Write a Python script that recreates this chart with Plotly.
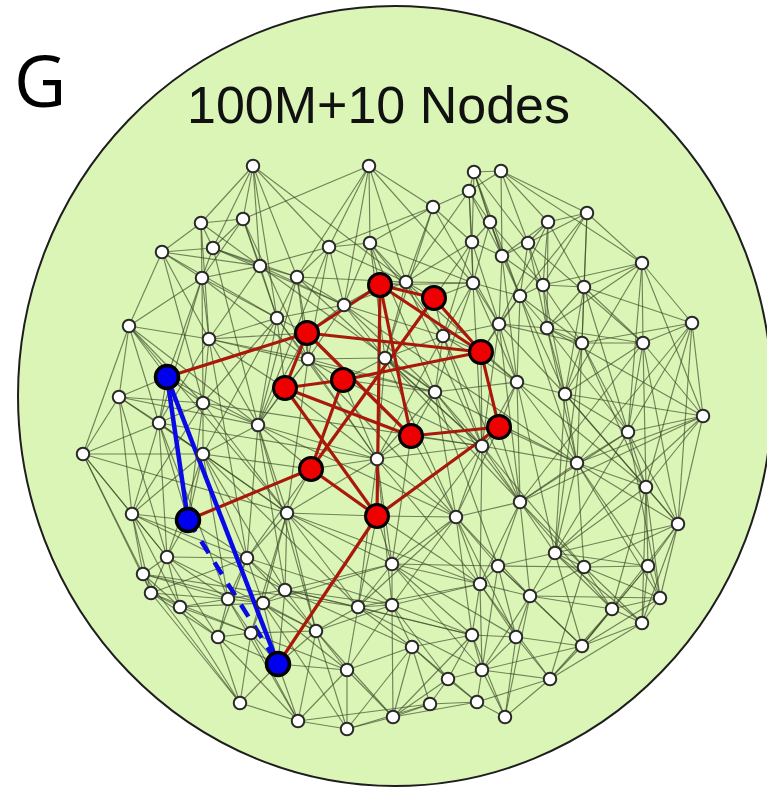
import plotly.graph_objects as go

# ---- node layout (pixel-style coordinates, y grows downward) ----
white_x = [253, 369, 474, 501, 469, 433, 587, 548, 490, 243, 201, 162, 213, 329, 370, 472, 528, 502, 642, 260,
           202, 297, 406, 473, 543, 584, 520, 692, 129, 277, 344, 499, 547, 443, 582, 643, 209, 308, 385, 119,
           203, 159, 258, 83, 203, 435, 517, 565, 703, 628, 482, 377, 577, 646, 520, 132, 287, 456, 678, 555,
           167, 247, 143, 151, 180, 228, 263, 285, 218, 251, 316, 347, 358, 392, 392, 498, 584, 648, 480, 530,
           660, 612, 642, 472, 516, 582, 412, 482, 448, 550, 430, 477, 393, 505, 240, 298, 347]
white_y = [166, 166, 172, 171, 191, 207, 213, 222, 222, 219, 223, 252, 248, 247, 243, 242, 243, 256, 263, 266,
           278, 277, 282, 283, 285, 287, 296, 323, 326, 318, 305, 324, 328, 336, 343, 343, 339, 359, 358, 397,
           403, 423, 425, 454, 454, 392, 382, 394, 416, 432, 446, 459, 463, 487, 502, 514, 513, 517, 524, 553,
           557, 558, 574, 593, 607, 599, 603, 590, 637, 633, 631, 670, 607, 605, 564, 566, 567, 566, 584, 596,
           598, 609, 623, 635, 637, 646, 647, 670, 679, 679, 704, 702, 717, 717, 703, 721, 729]

red_x = [380, 434, 307, 481, 285, 343, 411, 499, 311, 377]
red_y = [285, 298, 333, 352, 388, 380, 436, 427, 469, 516]

blue_x = [167, 188, 278]
blue_y = [377, 520, 664]

# combined index: white 0-96, red 97-106, blue 107-109
all_x = white_x + red_x + blue_x
all_y = white_y + red_y + blue_y

gray_edges = [
    (0, 9), (0, 12), (0, 19), (0, 13), (0, 10), (0, 21), (1, 5), (1, 13), (1, 14), (1, 30), (1, 21), (1, 9),
    (2, 3), (2, 4), (2, 8), (2, 16), (2, 15), (3, 4), (3, 6), (3, 7), (3, 16), (3, 18), (4, 5), (4, 8), (4, 15),
    (4, 17), (4, 23), (5, 14), (5, 15), (5, 22), (5, 13), (5, 38), (6, 7), (6, 16), (6, 18), (6, 24), (6, 25),
    (7, 16), (7, 17), (7, 24), (7, 32), (8, 15), (8, 17), (8, 26), (8, 23), (9, 10), (9, 12), (9, 20), (9, 29),
    (9, 19), (10, 11), (10, 12), (10, 20), (11, 12), (11, 20), (11, 28), (11, 36), (11, 19), (12, 20), (12, 19),
    (12, 21), (12, 42), (13, 14), (13, 21), (13, 30), (13, 22), (13, 19), (14, 22), (14, 30), (14, 38), (14, 23),
    (15, 17), (15, 23), (15, 33), (15, 22), (16, 17), (16, 24), (16, 26), (17, 24), (17, 26), (17, 31), (18, 24),
    (18, 25), (18, 27), (18, 35), (18, 32), (18, 48), (19, 20), (19, 21), (19, 29), (19, 36), (19, 30), (20, 36),
    (20, 28), (20, 29), (20, 40), (21, 29), (21, 30), (21, 37), (21, 22), (22, 23), (22, 33), (22, 30), (22, 38),
    (22, 46), (23, 26), (23, 31), (23, 33), (23, 45), (24, 25), (24, 26), (24, 32), (24, 34), (25, 32), (25, 34),
    (25, 35), (25, 27), (25, 47), (26, 31), (26, 32), (26, 47), (26, 46), (27, 35), (27, 48), (27, 34), (27, 49),
    (27, 53), (28, 36), (28, 39), (28, 43), (28, 41), (28, 40), (29, 36), (29, 37), (29, 42), (29, 30), (29, 44),
    (30, 37), (30, 38), (30, 45), (30, 33), (31, 32), (31, 34), (31, 46), (31, 33), (31, 50), (32, 34), (32, 35),
    (32, 47), (32, 48), (33, 38), (33, 45), (33, 46), (33, 51), (34, 35), (34, 47), (34, 49), (34, 52), (35, 48),
    (35, 49), (35, 53), (35, 47), (36, 40), (36, 41), (36, 37), (36, 42), (37, 38), (37, 42), (37, 51), (37, 45),
    (38, 45), (38, 51), (38, 50), (39, 43), (39, 41), (39, 40), (39, 55), (39, 42), (40, 41), (40, 42), (40, 44),
    (40, 55), (40, 56), (41, 43), (41, 44), (41, 55), (41, 60), (41, 56), (42, 44), (42, 56), (42, 51), (42, 61),
    (42, 67), (43, 44), (43, 55), (43, 60), (43, 62), (44, 55), (44, 56), (44, 61), (44, 60), (45, 46), (45, 50),
    (45, 51), (45, 57), (45, 54), (46, 47), (46, 50), (46, 52), (46, 54), (47, 49), (47, 52), (47, 53), (47, 48),
    (48, 49), (48, 53), (48, 58), (48, 52), (48, 54), (49, 52), (49, 53), (49, 58), (49, 54), (49, 59), (50, 51),
    (50, 54), (50, 57), (50, 52), (50, 74), (51, 57), (51, 56), (51, 74), (51, 72), (52, 53), (52, 54), (52, 59),
    (52, 76), (52, 58), (53, 58), (53, 59), (53, 77), (53, 80), (54, 57), (54, 59), (54, 75), (54, 78), (54, 76),
    (55, 60), (55, 62), (55, 61), (55, 63), (56, 61), (56, 67), (56, 66), (56, 72), (56, 70), (56, 74), (57, 74),
    (57, 75), (57, 78), (57, 72), (57, 73), (58, 59), (58, 77), (58, 80), (58, 82), (58, 76), (59, 76), (59, 77),
    (59, 75), (59, 81), (59, 79), (60, 61), (60, 62), (60, 63), (60, 65), (60, 64), (61, 65), (61, 66), (61, 67),
    (61, 63), (61, 68), (62, 63), (62, 64), (62, 66), (62, 65), (63, 64), (63, 65), (63, 68), (63, 94), (64, 65),
    (64, 68), (64, 94), (64, 66), (64, 69), (65, 66), (65, 68), (65, 69), (65, 67), (66, 67), (66, 69), (66, 70),
    (66, 71), (67, 70), (67, 72), (67, 73), (67, 74), (68, 69), (68, 94), (68, 95), (69, 70), (69, 94), (69, 95),
    (69, 71), (70, 71), (70, 72), (70, 95), (70, 96), (70, 73), (71, 72), (71, 95), (71, 96), (71, 92), (71, 86),
    (72, 73), (72, 74), (72, 86), (72, 78), (73, 74), (73, 86), (73, 78), (73, 83), (73, 92), (74, 75), (74, 78),
    (74, 83), (75, 76), (75, 78), (75, 79), (75, 84), (76, 77), (76, 79), (76, 81), (76, 80), (77, 80), (77, 81),
    (77, 82), (78, 79), (78, 83), (78, 84), (78, 87), (79, 81), (79, 84), (79, 85), (79, 87), (80, 81), (80, 82),
    (80, 85), (81, 82), (81, 85), (81, 89), (82, 85), (82, 89), (83, 84), (83, 86), (83, 87), (83, 88), (84, 85),
    (84, 87), (84, 89), (84, 93), (85, 89), (85, 87), (86, 88), (86, 90), (86, 92), (86, 96), (87, 88), (87, 91),
    (87, 93), (87, 89), (88, 90), (88, 91), (88, 92), (89, 93), (89, 91), (90, 91), (90, 92), (90, 96), (91, 93),
    (91, 92), (92, 96), (94, 95), (95, 96),
    # longer links across the layout
    (0, 22), (1, 23), (9, 37), (12, 30), (2, 26), (6, 34), (13, 42), (14, 33), (21, 42), (5, 31), (11, 40),
    (20, 37), (28, 56), (39, 60), (43, 63), (41, 65), (36, 61), (42, 70), (44, 67), (37, 56), (38, 57), (45, 75),
    (46, 59), (47, 58), (50, 78), (51, 73), (56, 73), (57, 83), (54, 79), (52, 77), (53, 81), (59, 85), (74, 87),
    (72, 83), (60, 68), (62, 94), (65, 95), (66, 96), (67, 86), (70, 92), (75, 87), (76, 89), (77, 85), (49, 80),
    (35, 58), (27, 58), (18, 49), (7, 25), (16, 35), (3, 17), (4, 22), (15, 31), (8, 24), (10, 19), (0, 29),
    (1, 22), (29, 40), (40, 56), (55, 64), (61, 70), (63, 69), (31, 47), (32, 49), (33, 50), (23, 46), (34, 53),
    (26, 34),
    (42, 57), (41, 51), (44, 72), (40, 50), (36, 45), (29, 51), (37, 57), (43, 56), (55, 67), (60, 70), (62, 72),
    (21, 50), (19, 45), (30, 52), (38, 54), (45, 52), (46, 53), (33, 54), (50, 76), (51, 78), (57, 79), (54, 81),
    (52, 80), (47, 59), (48, 59), (27, 52), (35, 54), (32, 52), (34, 59), (25, 49), (24, 47), (17, 46), (23, 50),
    (31, 54), (56, 78), (61, 73), (66, 74), (67, 83), (72, 87), (73, 88), (74, 84), (75, 85), (78, 89), (79, 80),
    (83, 93), (86, 91), (57, 84), (59, 82), (76, 82), (53, 82), (58, 85), (39, 44), (28, 42), (11, 29), (10, 36),
    (13, 37), (14, 45), (22, 50), (26, 52), (18, 47), (6, 26), (7, 31), (2, 17), (16, 32), (20, 41), (44, 65),
    (56, 69), (71, 73), (88, 86), (90, 95), (92, 83), (93, 79), (85, 80), (89, 82),
    # links touching the highlighted nodes
    (97, 22), (97, 14), (97, 30), (97, 23), (98, 22), (98, 23), (98, 33), (98, 15), (99, 29), (99, 30), (99, 37),
    (99, 21), (99, 36), (100, 31), (100, 33), (100, 26), (100, 46), (101, 37), (101, 42), (101, 36), (101, 29),
    (102, 37), (102, 38), (102, 45), (102, 51), (103, 45), (103, 51), (103, 50), (103, 57), (104, 46), (104, 50),
    (104, 52), (104, 54), (105, 42), (105, 56), (105, 44), (105, 51), (106, 51), (106, 57), (106, 74), (106, 72),
    (106, 56), (107, 39), (107, 40), (107, 28), (107, 41), (107, 20), (107, 42), (108, 55), (108, 41), (108, 60),
    (108, 61), (108, 44), (108, 40), (109, 69), (109, 70), (109, 95), (109, 71), (109, 66), (109, 68), (109, 67),
    (109, 94), (101, 51), (102, 50), (103, 74), (104, 57), (105, 61), (106, 78), (99, 42), (100, 50),
]

red_edges = [
    (107, 99), (108, 105), (109, 106), (99, 97), (97, 98), (97, 100), (98, 100), (99, 100), (97, 106), (97, 103),
    (101, 102), (102, 100), (101, 103), (103, 104), (100, 104), (104, 106), (105, 106), (105, 98), (105, 102),
    (101, 106), (101, 99), (99, 103),
]

blue_edges = [(107, 108), (107, 109)]
blue_dashed = [(108, 109)]


def segments(edge_list):
    xs, ys = [], []
    seen = set()
    for a, b in edge_list:
        key = (min(a, b), max(a, b))
        if a == b or key in seen:
            continue
        seen.add(key)
        xs += [all_x[a], all_x[b], None]
        ys += [all_y[a], all_y[b], None]
    return xs, ys


fig = go.Figure()

gx, gy = segments(gray_edges)
fig.add_trace(go.Scatter(x=gx, y=gy, mode="lines",
                         line=dict(color="rgba(58,72,38,0.66)", width=1.15), hoverinfo="skip"))

rx, ry = segments(red_edges)
fig.add_trace(go.Scatter(x=rx, y=ry, mode="lines",
                         line=dict(color="#a8190c", width=3.2), hoverinfo="skip"))

bx, by = segments(blue_edges)
fig.add_trace(go.Scatter(x=bx, y=by, mode="lines",
                         line=dict(color="#0a0ae8", width=4.5), hoverinfo="skip"))

dx, dy = segments(blue_dashed)
fig.add_trace(go.Scatter(x=dx, y=dy, mode="lines",
                         line=dict(color="#0a0ae8", width=4.5, dash="14px,11px"), hoverinfo="skip"))

fig.add_trace(go.Scatter(x=white_x, y=white_y, mode="markers",
                         marker=dict(size=12.5, color="white", line=dict(color="#2a2a2a", width=2)),
                         hoverinfo="skip"))
fig.add_trace(go.Scatter(x=red_x, y=red_y, mode="markers",
                         marker=dict(size=23, color="#ee0000", line=dict(color="black", width=3)),
                         hoverinfo="skip"))
fig.add_trace(go.Scatter(x=blue_x, y=blue_y, mode="markers",
                         marker=dict(size=23, color="#0000ee", line=dict(color="black", width=3.5)),
                         hoverinfo="skip"))

# green disc behind the network
fig.add_shape(type="circle", xref="x", yref="y", x0=18, x1=772, y0=6, y1=786,
              fillcolor="#daf5b6", line=dict(color="#1e1e1e", width=2), layer="below")

fig.add_annotation(x=40, y=79, text="G", showarrow=False, xref="x", yref="y",
                   font=dict(family="Open Sans", size=72, color="black"))
fig.add_annotation(x=378, y=105, text="100M+10 Nodes", showarrow=False, xref="x", yref="y",
                   font=dict(family="Liberation Sans, Arial", size=52, color="#111111"))

fig.update_layout(
    width=767, height=788, margin=dict(l=0, r=0, t=0, b=0),
    paper_bgcolor="white", plot_bgcolor="white", showlegend=False,
    xaxis=dict(range=[0, 767], visible=False, fixedrange=True),
    yaxis=dict(range=[788, 0], visible=False, fixedrange=True),
)

fig.write_html("out.html")
